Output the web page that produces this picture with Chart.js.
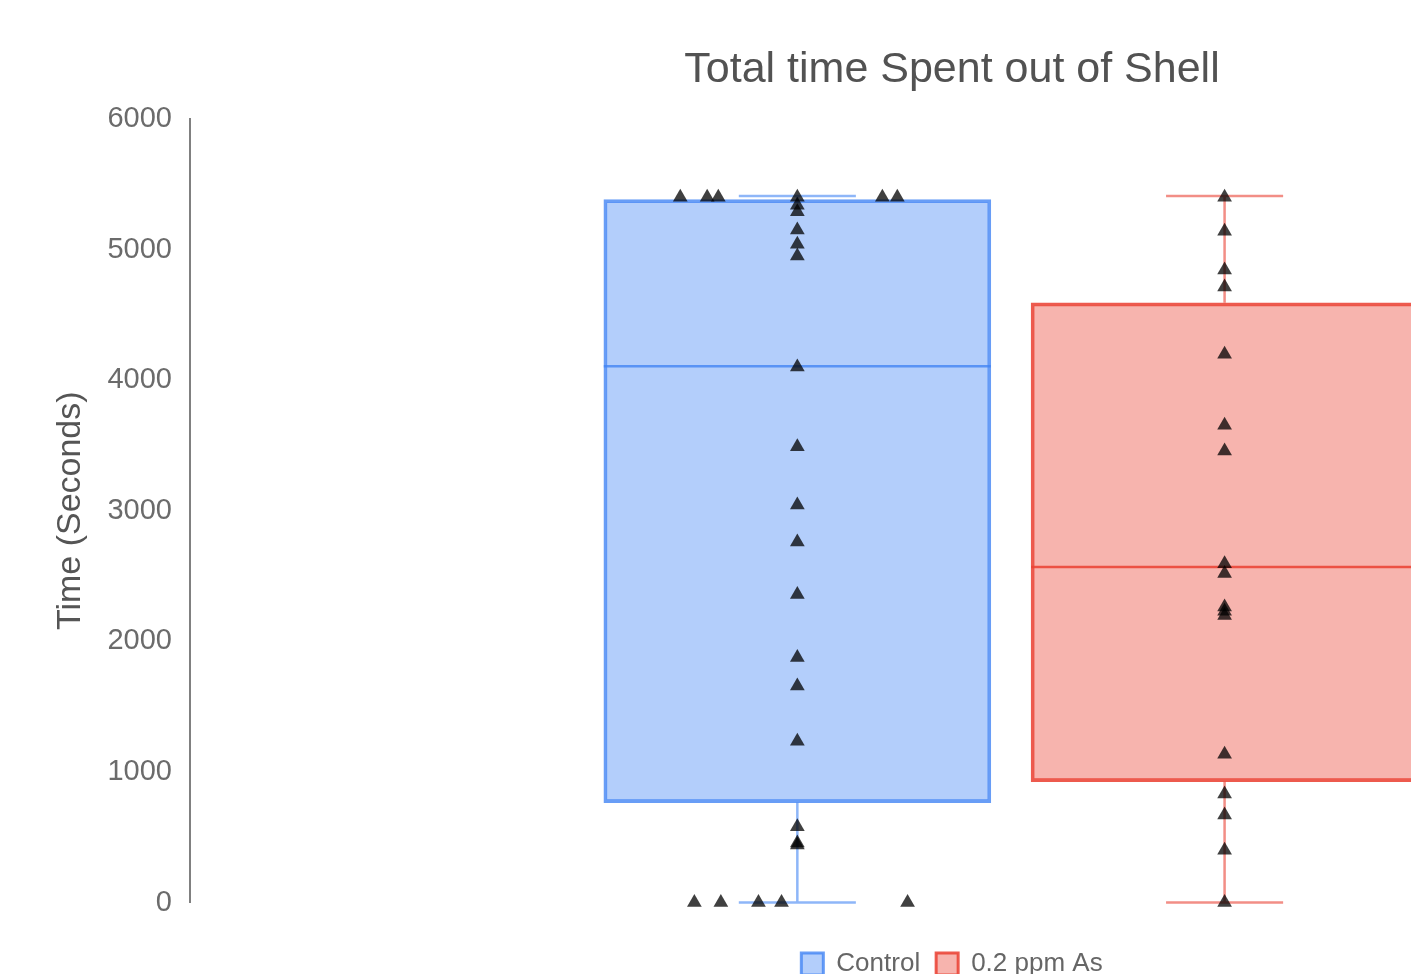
<!DOCTYPE html>
<html><head><meta charset="utf-8">
<script src="https://cdn.jsdelivr.net/npm/chart.js@4.4.1/dist/chart.umd.min.js"></script>
<style>html,body{margin:0;padding:0;background:#fff;overflow:hidden}#wrap{width:1904px;height:987px}</style>
</head><body><div id="wrap"><canvas id="c" width="1904" height="987"></canvas></div>
<script>
/* data */
const groups=['Control','0.2 ppm As'];
const groupX=[1,2];
const boxQ1=[765,926];
const boxQ3=[5383,4592];
const medians=[4106,2569];
const whiskerMin=[0,0];
const whiskerMax=[5410,5410];
const controlTimes=[5400,5400,5400,5400,5400,5400,5340,5290,5150,5040,4950,4101,3490,3044,2761,2359,1876,1657,1235,581,455,440,0,0,0,0,0];
const controlJitter=[-0.274,-0.211,-0.185,0,0.199,0.234,0,0,0,0,0,0,0,0,0,0,0,0,0,0,0,0,-0.241,-0.179,-0.091,-0.037,0.258];
const arsenicTimes=[5400,5140,4844,4714,4198,3654,3457,2594,2520,2262,2230,2198,1136,830,670,400,0];
const arsenicJitter=[0,0,0,0,0,0,0,0,0,0,0,0,0,0,0,0,0];
const yTicks=[0,1000,2000,3000,4000,5000,6000];

/* look */
var FONT='"Liberation Sans", Arial, sans-serif';
var BOX_PX=387,BOX_HALF=0.453,WHISK_HALF=0.137;
var pal=[{fill:'rgba(66,133,244,0.4)',line:'rgba(66,133,244,0.8)',whisk:'rgba(66,133,244,0.6)'},
	{fill:'rgba(234,67,53,0.4)',line:'rgba(234,67,53,0.88)',whisk:'rgba(234,67,53,0.6)'}];
Chart.defaults.font.family=FONT;

var sets=[];
groups.forEach(function(g,i){
	sets.push({type:'bar',label:g,data:[{x:groupX[i],y:[boxQ1[i],boxQ3[i]]}],backgroundColor:pal[i].fill,
		borderColor:pal[i].line,borderWidth:3,borderSkipped:false,barThickness:BOX_PX,grouped:false,order:3});
});
groups.forEach(function(g,i){let x=groupX[i];
	// whisker caps + stems outside the box
	sets.push({type:'line',label:g+' whiskers',order:2,pointRadius:0,borderWidth:2.5,borderColor:pal[i].whisk,spanGaps:false,clip:false,
		data:[{x:x-WHISK_HALF,y:whiskerMax[i]},{x:x+WHISK_HALF,y:whiskerMax[i]},{x:x,y:null},
			{x:x,y:whiskerMax[i]},{x:x,y:boxQ3[i]},{x:x,y:null},
			{x:x,y:boxQ1[i]},{x:x,y:whiskerMin[i]},{x:x,y:null},
			{x:x-WHISK_HALF,y:whiskerMin[i]},{x:x+WHISK_HALF,y:whiskerMin[i]}]});
	sets.push({type:'line',label:g+' median',order:2,pointRadius:0,borderWidth:2.5,borderColor:pal[i].line,
		data:[{x:x-BOX_HALF,y:medians[i]},{x:x+BOX_HALF,y:medians[i]}]});
});
var pts=[[controlTimes,controlJitter],[arsenicTimes,arsenicJitter]];
pts.forEach(function(p,i){
	sets.push({type:'scatter',label:groups[i]+' points',order:1,clip:false,pointStyle:'triangle',pointRadius:8.5,
		pointBorderWidth:0,backgroundColor:'rgba(0,0,0,0.75)',
		data:p[0].map(function(v,k){return {x:groupX[i]+p[1][k],y:v};})});
});

new Chart(document.getElementById('c'),{type:'bar',data:{datasets:sets},
	options:{responsive:false,animation:false,devicePixelRatio:1,events:[],
		layout:{padding:0},
		scales:{
			x:{type:'linear',min:-0.4215,max:3.5703,offset:false,ticks:{display:false},grid:{display:false},border:{display:false},
				afterFit:function(s){s.height=32.5;}},
			y:{type:'linear',min:yTicks[0],max:yTicks[yTicks.length-1],
				ticks:{stepSize:1000,padding:18,color:'#6b6b6b',font:{size:29},callback:function(v){return String(v);}},
				grid:{display:false,drawTicks:false},border:{display:true,color:'#808080',width:2},
				title:{display:true,text:'Time (Seconds)',color:'#555',font:{size:34},padding:{top:50,bottom:0}},
				afterFit:function(s){s.width=190;}}
		},
		plugins:{
			tooltip:{enabled:false},
			title:{display:true,text:'Total time Spent out of Shell',color:'#525252',font:{size:43,weight:'normal'},padding:{top:44,bottom:23.4}},
			legend:{position:'bottom',labels:{boxWidth:22,boxHeight:22,padding:16,color:'#666',font:{size:26},
				filter:function(item,d){return d.datasets[item.datasetIndex].type==='bar';}}}
		}
	}
});
</script></body></html>
